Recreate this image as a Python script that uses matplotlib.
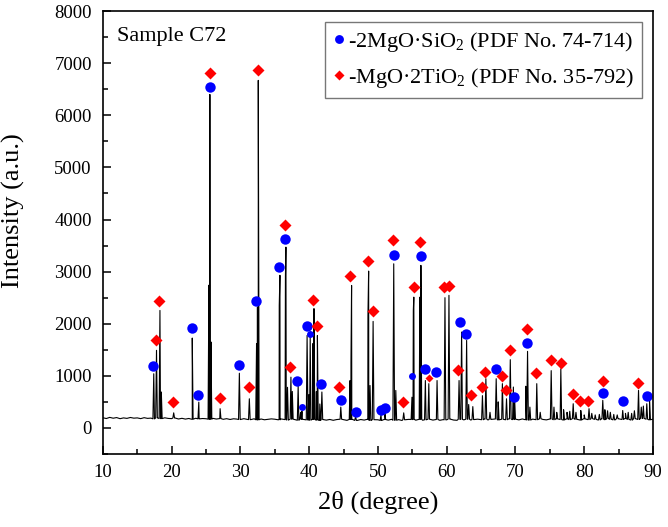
import numpy as np
import matplotlib
matplotlib.use("Agg")
import matplotlib.pyplot as plt

plt.rcParams['font.family'] = ['Liberation Serif', 'DejaVu Serif']
plt.rcParams['mathtext.fontset'] = 'custom'
plt.rcParams['mathtext.rm'] = 'Liberation Serif'
plt.rcParams['mathtext.it'] = 'Liberation Serif:italic'

# background of the pattern, one value every 0.5 degree from 10 to 90
base_x = np.arange(10, 90.01, 0.5)
base_y = [196, 181, 203, 187, 199, 178, 193, 184, 201, 188,
          193, 179, 197, 184, 189, 175, 192, 180, 195, 183,
          179, 191, 172, 185, 170, 182, 168, 186, 175, 181,
          177, 169, 184, 171, 180, 166, 178, 163, 176, 170,
          162, 178, 165, 160, 176, 158, 172, 157, 166, 174,
          168, 156, 171, 160, 152, 169, 158, 148, 166, 155,
          150, 166, 154, 145, 162, 150, 163, 147, 161, 168,
          159, 146, 164, 153, 145, 162, 151, 165, 144, 159,
          157, 145, 162, 150, 166, 148, 160, 144, 158, 165,
          162, 149, 166, 148, 157, 168, 151, 163, 147, 160,
          156, 170, 152, 147, 165, 155, 168, 152, 161, 169,
          158, 171, 153, 165, 172, 156, 168, 158, 174, 161,
          169, 155, 173, 160, 152, 170, 158, 176, 163, 155,
          171, 158, 175, 162, 154, 173, 160, 178, 164, 153,
          175, 161, 179, 165, 154, 174, 160, 181, 166, 155,
          176, 162, 180, 164, 152, 177, 163, 182, 168, 157,
          170]

# diffraction peaks (2theta, intensity)
peak_pos = [17.4, 17.8, 18.3, 18.5, 20.3, 23.0, 23.95, 25.42, 25.56, 25.72,
            27.05, 29.85, 31.3, 32.35, 32.48, 32.6, 35.65, 35.75, 36.55, 36.62,
            36.85, 37.35, 37.55, 38.4, 38.75, 38.95, 39.7, 39.95, 40.15, 40.55,
            40.7, 41.05, 41.2, 41.55, 41.85, 44.6, 45.95, 46.08, 46.17, 46.75,
            48.55, 48.65, 48.85, 49.3, 50.45, 51.0, 52.3, 52.6, 53.75, 54.95,
            55.15, 55.22, 56.1, 56.25, 56.9, 57.4, 58.6, 59.75, 60.33, 61.8,
            62.17, 62.9, 63.2, 63.8, 65.2, 65.7, 66.3, 67.2, 67.5, 68.1,
            68.7, 69.25, 69.7, 69.9, 71.5, 71.76, 72.1, 73.1, 73.6, 75.2,
            75.6, 76.0, 76.6, 77.0, 77.5, 77.9, 78.4, 78.8, 79.5, 80.0,
            80.7, 81.1, 81.6, 82.2, 82.7, 83.0, 83.4, 83.8, 84.3, 84.8,
            85.6, 86.0, 86.4, 86.9, 87.3, 87.9, 88.3, 88.6, 89.1, 89.5]
peak_int = [1040, 1490, 2255, 690, 290, 1725, 495, 2740, 6400, 1650,
            370, 1050, 560, 1620, 2320, 6670, 2350, 2930, 2910, 3470,
            780, 975, 700, 800, 300, 320, 1775, 640, 1745, 1620,
            2290, 700, 1775, 460, 690, 400, 910, 1265, 2735, 220,
            2160, 3010, 815, 2045, 260, 290, 3150, 720, 290, 590,
            2255, 2510, 2510, 3120, 910, 850, 910, 2500, 2545, 910,
            1840, 1680, 450, 410, 620, 945, 300, 945, 500, 850,
            560, 1310, 785, 500, 800, 1470, 400, 850, 300, 1100,
            400, 300, 1135, 350, 300, 320, 465, 300, 335, 250,
            370, 280, 250, 260, 530, 350, 330, 300, 260, 250,
            335, 280, 300, 280, 330, 720, 400, 420, 465, 530]

# phase markers
fo_x = [17.3, 22.9, 23.9, 25.55, 29.8, 32.2, 35.6, 36.5, 38.3, 38.9,
        39.7, 40.1, 41.75, 44.6, 46.75, 50.4, 51.0, 52.3, 55.0, 56.2,
        56.9, 58.5, 62.0, 62.8, 67.1, 69.8, 71.7, 82.7, 85.6, 89.1]
fo_y = [1180, 1910, 630, 6540, 1210, 2440, 3090, 3630, 910, 410,
        1950, 1810, 840, 530, 310, 335, 380, 3310, 990, 3300,
        1135, 1065, 2040, 1810, 1135, 585, 1630, 670, 520, 610]
fo_small = [38.9, 40.1, 55.0]

mt_x = [17.7, 18.2, 20.2, 25.55, 27.0, 31.2, 32.6, 36.5, 37.2, 40.6,
        41.2, 44.4, 46.0, 48.5, 49.25, 52.2, 53.7, 55.2, 56.1, 57.4,
        59.65, 60.3, 61.6, 63.6, 65.1, 65.5, 68.05, 68.6, 69.2, 71.7,
        73.0, 75.1, 76.6, 78.4, 79.4, 80.6, 82.7, 87.8]
mt_y = [1690, 2440, 495, 6810, 575, 795, 6860, 3900, 1170, 2460,
        1960, 785, 2915, 3210, 2250, 3600, 495, 2700, 3565, 955,
        2700, 2720, 1120, 625, 785, 1070, 1000, 720, 1490, 1900,
        1060, 1300, 1250, 650, 515, 520, 910, 865]
mt_small = [57.4]

# build the trace: background points plus narrow spikes
w = 0.12
tx = list(base_x)
ty = list(base_y)
for p, h in zip(peak_pos, peak_int):
    b = base_y[int(round((p - 10) / 0.5))]
    tx += [p - w, p, p + w]
    ty += [b, h, b]
order = np.argsort(tx, kind='stable')
tx = np.array(tx)[order]
ty = np.array(ty)[order]

fig = plt.figure(figsize=(6.68, 5.27), dpi=100)
ax = fig.add_axes([0.154, 0.1385, 0.8235, 0.8405])

ax.plot(tx, ty, color='black', lw=0.8)

big = [i for i, x in enumerate(fo_x) if x not in fo_small]
sm = [i for i, x in enumerate(fo_x) if x in fo_small]
ax.plot([fo_x[i] for i in big], [fo_y[i] for i in big], 'o', color='#0000ff',
        ms=7.5, mec='none', label='-2MgO·SiO$_2$ (PDF No. 74-714)')
ax.plot([fo_x[i] for i in sm], [fo_y[i] for i in sm], 'o', color='#0000ff',
        ms=5, mec='none')
big = [i for i, x in enumerate(mt_x) if x not in mt_small]
sm = [i for i, x in enumerate(mt_x) if x in mt_small]
ax.plot([mt_x[i] for i in big], [mt_y[i] for i in big], 'D', color='#ff0000',
        ms=6.5, mec='none', label='-MgO·2TiO$_2$ (PDF No. 35-792)')
ax.plot([mt_x[i] for i in sm], [mt_y[i] for i in sm], 'D', color='#ff0000',
        ms=4.5, mec='none')

ax.set_xlim(10, 90)
ax.set_ylim(-500, 8000)
ax.set_xticks(np.arange(10, 91, 10))
ax.set_xticks(np.arange(15, 90, 10), minor=True)
ax.set_yticks(np.arange(0, 8001, 1000))
ax.set_yticks(np.arange(-500, 8000, 1000), minor=True)
ax.tick_params(which='both', direction='in', labelsize=13.5, top=False, right=False)
ax.tick_params(which='major', length=6, width=1.1)
ax.tick_params(which='minor', length=3.5, width=1.1)
ax.tick_params(axis='y', which='both', pad=8)
ax.tick_params(axis='x', which='both', pad=7)
for s in ax.spines.values():
    s.set_linewidth(1.2)

ax.set_xlabel('2θ (degree)', fontsize=19, labelpad=7)
ax.set_ylabel('Intensity (a.u.)', fontsize=19)
ax.yaxis.set_label_coords(-0.142, 0.55)

ax.text(0.025, 0.965, 'Sample C72', transform=ax.transAxes, fontsize=16,
        va='top', ha='left')

leg = ax.legend(loc='upper right', fontsize=16, frameon=True, fancybox=False,
                edgecolor='#555555', handlelength=0.5, handletextpad=0.15,
                borderpad=0.35, labelspacing=0.55, borderaxespad=0.5,
                markerscale=0.85)
leg.get_frame().set_linewidth(1.0)

fig.savefig('out.png', dpi=100)
